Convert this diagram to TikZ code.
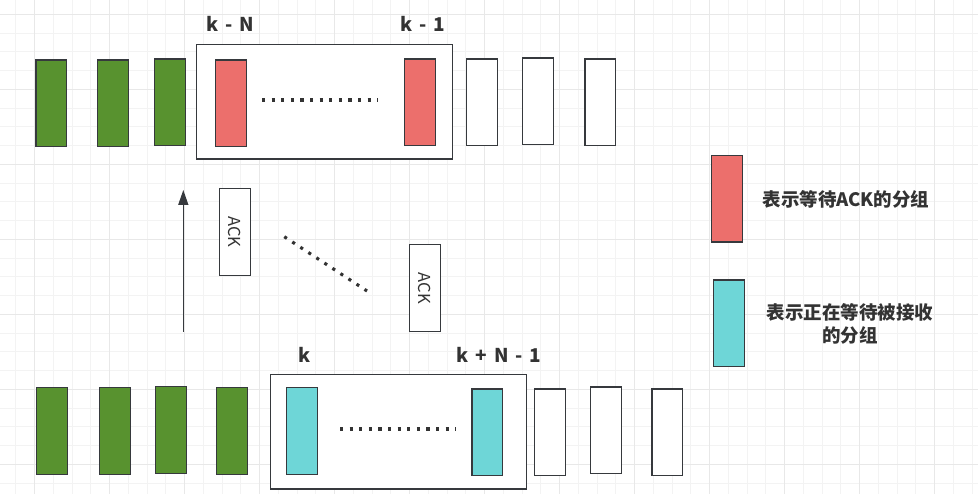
\documentclass[tikz,border=0pt]{standalone}
\usepackage{fontspec}
\setmainfont{Noto Sans CJK SC}
\usetikzlibrary{arrows.meta}
\definecolor{gridminor}{HTML}{F3F3F3}
\definecolor{gridmajor}{HTML}{E8E8E8}
\definecolor{pktgreen}{HTML}{58922F}
\definecolor{pktred}{HTML}{EC6F6C}
\definecolor{pktcyan}{HTML}{6ED6D7}
\definecolor{edge}{HTML}{36393D}
\definecolor{txt}{HTML}{333333}
\newcommand{\wsp}{\hspace{0.36em}}
\tikzset{
  pkt/.style={draw=edge, line width=1.3pt, minimum width=30.5pt, minimum height=86.5pt, inner sep=0pt, anchor=north west},
  gpkt/.style={pkt, fill=pktgreen},
  rpkt/.style={pkt, fill=pktred},
  cpkt/.style={pkt, fill=pktcyan},
  wpkt/.style={pkt, fill=white},
  winbox/.style={draw=edge, line width=1.4pt, fill=white, inner sep=0pt, anchor=north west},
  ackbox/.style={draw=edge, line width=1.3pt, fill=white, minimum width=30.5pt, minimum height=87pt, inner sep=0pt, anchor=north west},
  acktext/.style={font=\fontsize{16.5}{18}\selectfont, text=txt, rotate=-90},
  lbl/.style={font=\fontsize{19}{21}\selectfont\bfseries, text=txt},
  legtext/.style={font=\fontsize{18.5}{23}\selectfont\bfseries, text=txt, align=center},
  dots/.style={draw=txt, line width=3.1pt, dash pattern=on 3.1pt off 6.5pt},
  arr/.style={draw=edge, line width=1.5pt, -{Triangle[width=10pt,length=15pt]}}
}
\begin{document}
\begin{tikzpicture}[x=1pt,y=-1pt]
\useasboundingbox (0,0) rectangle (978,494);
\fill[white] (0,0) rectangle (978,494);
% grid
\foreach \i in {-1,...,52} {
  \draw[gridminor, line width=1pt] ({34.7+18.75*\i},0) -- ({34.7+18.75*\i},494);
}
\foreach \j in {-1,...,26} {
  \draw[gridminor, line width=1pt] (0,{14.3+18.75*\j}) -- (978,{14.3+18.75*\j});
}
\foreach \i in {0,...,13} {
  \draw[gridmajor, line width=1pt] ({34.7+75*\i},0) -- ({34.7+75*\i},494);
}
\foreach \j in {0,...,6} {
  \draw[gridmajor, line width=1pt] (0,{14.3+75*\j}) -- (978,{14.3+75*\j});
}
% top row
\node[winbox, minimum width=256pt, minimum height=114.5pt] (topwin) at (196,44) {};
\node[gpkt] (tg1) at (35.3,59.3) {};
\node[gpkt] (tg2) at (97,59.3) {};
\node[gpkt] (tg3) at (154,58.3) {};
\node[rpkt] (tr1) at (215,59.3) {};
\node[rpkt] (tr2) at (404,58.3) {};
\node[wpkt] (tw1) at (466,58.5) {};
\node[wpkt] (tw2) at (522,57.3) {};
\node[wpkt] (tw3) at (584.3,58.3) {};
\coordinate (tdA) at (262,100);
\coordinate (tdB) at (378,100);
\draw[dots] (tdA) -- (tdB);
\node[lbl] (lkN) at (230,24) {k\wsp-\wsp N};
\node[lbl] (lk1) at (423,24) {k\wsp-\wsp 1};
% middle
\coordinate (arrS) at (183.3,332);
\coordinate (arrE) at (183.3,190);
\draw[arr] (arrS) -- (arrE);
\node[ackbox] (ack1) at (219,187.7) {};
\node[acktext] at (ack1.center) {ACK};
\node[ackbox] (ack2) at (409,244) {};
\node[acktext] at (ack2.center) {ACK};
\coordinate (ddA) at (284.3,236.7);
\coordinate (ddB) at (367,291);
\draw[dots] (ddA) -- (ddB);
% legend
\node[rpkt] (legr) at (711,155) {};
\node[legtext] (legrt) at (846,199) {表示等待ACK的分组};
\node[cpkt] (legc) at (713,279.5) {};
\node[legtext] (legct) at (850,323.5) {表示正在等待被接收\\的分组};
% bottom row
\node[winbox, minimum width=255.7pt, minimum height=114.3pt] (botwin) at (270,374) {};
\node[gpkt] (bg1) at (36,387) {};
\node[gpkt] (bg2) at (99,387) {};
\node[gpkt] (bg3) at (155,386) {};
\node[gpkt] (bg4) at (216,387) {};
\node[cpkt] (bc1) at (286,387) {};
\node[cpkt] (bc2) at (471.3,388.3) {};
\node[wpkt] (bw1) at (534,388.3) {};
\node[wpkt] (bw2) at (590,386.3) {};
\node[wpkt] (bw3) at (651.3,388.3) {};
\coordinate (bdA) at (340,429);
\coordinate (bdB) at (456,429);
\draw[dots] (bdA) -- (bdB);
\node[lbl] (lk) at (305,355) {k};
\node[lbl] (lkN1) at (499,355) {k\wsp+\wsp N\wsp-\wsp 1};
\end{tikzpicture}
\end{document}
